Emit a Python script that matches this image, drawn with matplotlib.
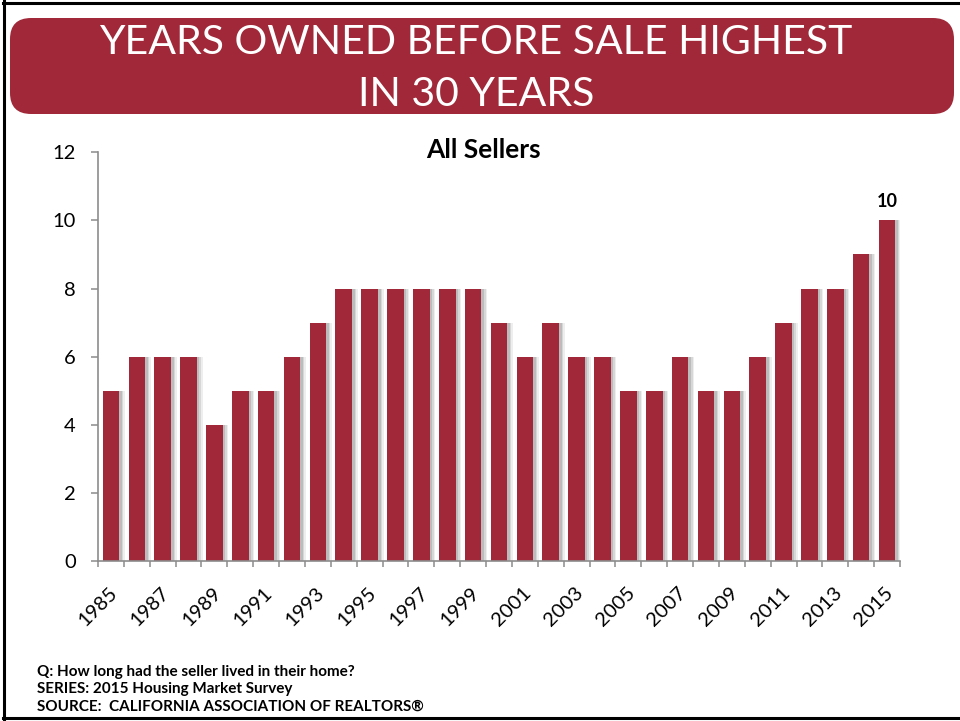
import numpy as np
import matplotlib
matplotlib.use("Agg")
import matplotlib.pyplot as plt
from matplotlib.patches import FancyBboxPatch
from matplotlib.lines import Line2D

# data
YEARS = list(range(1985, 2016))
VALUES = [5, 6, 6, 6, 4, 5, 5, 6, 7, 8, 8, 8, 8, 8, 8, 7,
          6, 7, 6, 6, 5, 5, 6, 5, 5, 6, 7, 8, 8, 9, 10]
Y_TICKS = [0, 2, 4, 6, 8, 10, 12]

TITLE_LINES = ["YEARS OWNED BEFORE SALE HIGHEST", "IN 30 YEARS"]
SUBTITLE = "All Sellers"
FOOTER = [
    "Q: How long had the seller lived in their home?",
    "SERIES: 2015 Housing Market Survey",
    "SOURCE:  CALIFORNIA ASSOCIATION OF REALTORS\u00ae",
]

RED = "#A02838"
AXIS_GREY = "#8C8C8C"

plt.rcParams["font.family"] = ["Lato", "DejaVu Sans"]

fig = plt.figure(figsize=(9.6, 7.21), dpi=100)

# frame lines (top, left, bottom)
for xs, ys in [([0.003, 1.0], [0.9965, 0.9965]),
               ([0.0042, 0.0042], [0.0, 1.0]),
               ([0.003, 1.0], [0.0035, 0.0035])]:
    fig.add_artist(Line2D(xs, ys, color="black", lw=2.2, transform=fig.transFigure))

# title banner
banner = FancyBboxPatch((10 / 960, 1 - 114 / 721), 944 / 960, 96 / 721,
                        boxstyle="round,pad=0,rounding_size=0.022",
                        transform=fig.transFigure, facecolor=RED,
                        edgecolor="none", mutation_aspect=960 / 721)
fig.add_artist(banner)
for i, line in enumerate(TITLE_LINES):
    fig.text(476 / 960, 1 - (43 + 51 * i) / 721, line, ha="center",
             va="center", color="white", fontsize=29.5, fontweight="normal")

ax = fig.add_axes([98 / 960, 1 - 561 / 721, 802 / 960, 408.7 / 721])

x = np.arange(len(YEARS))
width = 0.64

# soft shadow on the right of each bar
for off, a in [(0.22, 0.10), (0.16, 0.16), (0.10, 0.22)]:
    ax.bar(x + off, VALUES, width=width, color="#606060", alpha=a,
           zorder=1, linewidth=0)
ax.bar(x, VALUES, width=width, color=RED, zorder=2, linewidth=0)

# label for the last bar
ax.text(x[-1], VALUES[-1] + 0.3, str(VALUES[-1]), ha="center",
        va="bottom", fontsize=13, fontweight="bold")

ax.set_xlim(-0.5, len(YEARS) - 0.5)
ax.set_ylim(0, 12)
ax.set_yticks(Y_TICKS)
ax.set_yticklabels([str(v) for v in Y_TICKS])

bounds = np.arange(len(YEARS) + 1) - 0.5
ax.set_xticks(bounds)
labels = [str(YEARS[i]) if i < len(YEARS) and i % 2 == 0 else "" for i in range(len(bounds))]
ax.set_xticklabels(labels, rotation=45, ha="center", va="top")

for s in ["top", "right"]:
    ax.spines[s].set_visible(False)
for s in ["left", "bottom"]:
    ax.spines[s].set_color(AXIS_GREY)
    ax.spines[s].set_linewidth(1.2)

ax.tick_params(axis="y", length=5, width=1.1, color=AXIS_GREY,
               labelsize=14.5, pad=11)
ax.tick_params(axis="x", length=4.5, width=1.1, color=AXIS_GREY,
               labelsize=14.5, pad=12)

fig.text(483 / 960, 1 - 150 / 721, SUBTITLE, ha="center", va="center",
         fontsize=19, fontweight="bold")

for i, line in enumerate(FOOTER):
    fig.text(37 / 960, 1 - (672 + 17.5 * i) / 721, line, ha="left",
             va="center", fontsize=11, fontweight="bold")

fig.savefig("out.png", dpi=100)
